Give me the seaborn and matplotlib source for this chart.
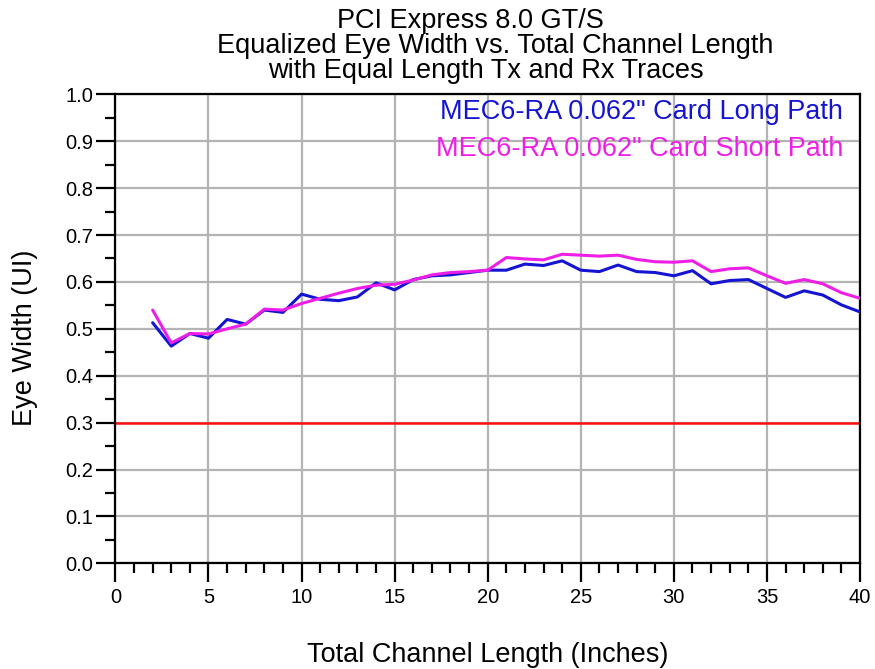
import numpy as np
import pandas as pd
import matplotlib
matplotlib.use("Agg")
import matplotlib.pyplot as plt
from matplotlib.ticker import MultipleLocator, FormatStrFormatter
import seaborn as sns

# --- data ---
lengths = list(range(2, 41))
long_path = [0.513, 0.463, 0.490, 0.480, 0.520, 0.510, 0.540, 0.535, 0.574, 0.563,
             0.560, 0.568, 0.598, 0.583, 0.605, 0.613, 0.615, 0.620, 0.625, 0.625,
             0.638, 0.635, 0.645, 0.625, 0.622, 0.636, 0.622, 0.620, 0.613, 0.624,
             0.596, 0.603, 0.605, 0.586, 0.567, 0.581, 0.572, 0.551, 0.536]
short_path = [0.540, 0.470, 0.490, 0.489, 0.500, 0.510, 0.542, 0.540, 0.554, 0.565,
              0.576, 0.586, 0.593, 0.595, 0.604, 0.615, 0.620, 0.622, 0.625, 0.652,
              0.649, 0.647, 0.659, 0.657, 0.655, 0.657, 0.648, 0.643, 0.642, 0.645,
              0.622, 0.628, 0.630, 0.613, 0.597, 0.605, 0.596, 0.577, 0.565]
series_names = ['MEC6-RA 0.062" Card Long Path', 'MEC6-RA 0.062" Card Short Path']
limit_ui = 0.3
title_lines = ["PCI Express 8.0 GT/S",
               "Equalized Eye Width vs. Total Channel Length",
               "with Equal Length Tx and Rx Traces"]

colors = {series_names[0]: "#1414d2", series_names[1]: "#ee1ee6"}

df = pd.DataFrame({
    "length": lengths * 2,
    "eye": long_path + short_path,
    "series": [series_names[0]] * len(lengths) + [series_names[1]] * len(lengths),
})

sns.set_style("white")
plt.rcParams["font.family"] = ["Liberation Sans", "DejaVu Sans"]
plt.rcParams["text.color"] = "black"
plt.rcParams["axes.labelcolor"] = "black"
plt.rcParams["xtick.color"] = "black"
plt.rcParams["ytick.color"] = "black"

fig = plt.figure(figsize=(8.75, 6.69), dpi=100)
ax = fig.add_axes([0.1319, 0.158, 0.851, 0.701])

ax.axhline(limit_ui, color="#ff1010", lw=1.8, zorder=2)
sns.lineplot(data=df, x="length", y="eye", hue="series", palette=colors,
             hue_order=series_names, lw=2.2, ax=ax, legend=False, zorder=3)

ax.set_xlim(0, 40)
ax.set_ylim(0, 1.0)
ax.xaxis.set_major_locator(MultipleLocator(5))
ax.xaxis.set_minor_locator(MultipleLocator(1))
ax.yaxis.set_major_locator(MultipleLocator(0.1))
ax.yaxis.set_minor_locator(MultipleLocator(0.05))
ax.yaxis.set_major_formatter(FormatStrFormatter("%.1f"))
ax.grid(True, which="major", color="#b4b4b4", lw=1.6, zorder=0)
ax.set_axisbelow(True)

for sp in ax.spines.values():
    sp.set_color("black")
    sp.set_linewidth(1.6)
ax.tick_params(which="major", direction="out", length=14, width=1.6,
               labelsize=14.5, color="black", labelcolor="black", pad=2,
               bottom=True, left=True)
ax.tick_params(which="minor", direction="out", length=7, width=1.6,
               color="black", bottom=True, left=True)
ax.tick_params(axis="x", which="major", pad=4)

ax.set_xlabel("Total Channel Length (Inches)", fontsize=19.5, labelpad=25)
ax.set_ylabel("Eye Width (UI)", fontsize=19.5)
ax.yaxis.set_label_coords(-0.104, 0.48)

# colored text legend, top right
ax.text(0.977, 0.962, series_names[0], transform=ax.transAxes, ha="right",
        va="center", fontsize=19.5, color=colors[series_names[0]])
ax.text(0.977, 0.883, series_names[1], transform=ax.transAxes, ha="right",
        va="center", fontsize=19.5, color=colors[series_names[1]])

title_x = [470 / 875, 495 / 875, 486 / 875]
title_y = [1 - 21 / 669, 1 - 46 / 669, 1 - 71 / 669]
for txt, tx, ty in zip(title_lines, title_x, title_y):
    fig.text(tx, ty, txt, ha="center", va="center", fontsize=19.5)

fig.savefig("out.png", dpi=100)
